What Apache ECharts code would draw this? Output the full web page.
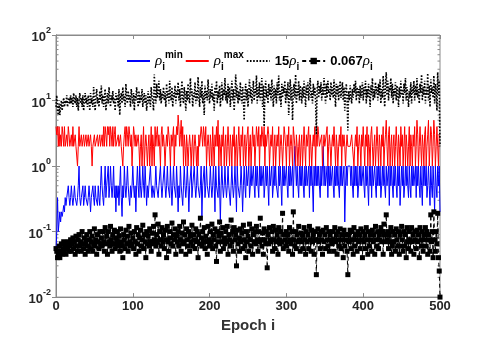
<!DOCTYPE html>
<html>
<head>
<meta charset="utf-8">
<script src="https://cdn.jsdelivr.net/npm/echarts@6/dist/echarts.min.js"></script>
<style>
  html, body { margin: 0; padding: 0; background: #fff; }
  #chart { width: 479px; height: 338px; }
</style>
</head>
<body>
<div id="chart"></div>
<script>
// values, one per epoch (0..500)
const rhoMin = [
  .05,.1,.33,.1,.14,.2,.14,.2,.17,.2,.25,.2,.33,.25,.33,.33,.5,.33,.25,.33,
  .5,.33,.25,.33,.5,.33,.33,.25,.33,.5,1,.33,.25,.33,.33,.5,.25,.33,.5,.33,
  .33,.25,.33,.5,.33,.2,.33,.33,.5,.33,.25,.5,.33,.33,.25,.5,.33,.25,.5,1,
  .5,.33,.25,.5,1,.33,.5,.5,1,.33,.5,1,.5,.33,.5,1,.33,.5,.2,.5,
  .33,.5,.25,.5,1,.33,.17,.5,.33,1,.5,.33,.5,1,.5,.33,.25,.5,.33,.5,
  1,.5,.33,.5,.2,.5,1,.5,.33,1,.5,.33,.5,1,.5,.33,1,.5,.25,.5,
  .33,.5,.5,1,.5,.33,.5,.5,.33,.5,1,.5,.5,.33,.5,.5,1,.5,.33,.5,
  .5,1,.5,.33,.5,1,.5,.5,.33,1,.5,.25,.5,1,.5,.5,.33,1,.5,.2,
  .5,.33,1,.5,.5,.25,.5,1,.5,.33,.5,1,.5,.2,.5,.5,1,.33,.5,.5,
  1,.5,.33,.5,1,.5,.5,.33,.5,1,.17,.5,.5,1,.33,.5,1,.5,.5,.33,
  .5,1,.5,.33,.5,1,.5,.2,1,.5,.5,.33,1,.5,.14,.5,1,.5,.33,.5,
  1,.5,.33,.5,1,.5,.5,.25,.5,1,.5,.33,.5,1,.5,.2,1,.5,.5,.33,
  .5,1,.5,.2,.5,1,.5,.33,1,.5,.5,1,.33,.5,1,.5,.5,1,.5,.33,
  1,.5,1,.5,.33,1,.5,1,.5,.5,1,.33,.5,1,.5,1,.5,.25,1,.5,
  .5,1,.33,.5,1,.5,1,.5,.5,.33,1,.5,1,.5,.25,1,.5,1,.5,.5,
  1,.5,.33,1,.5,1,.5,.5,1,.33,1,2,1,.5,1,.5,.33,1,.5,1,
  .5,1,.5,.33,1,.5,1,.5,.5,1,.33,1,.5,1,.5,.2,1,.5,1,.5,
  1,.5,1,.5,.33,1,.5,1,2,.5,1,.5,.5,1,.33,1,.5,1,.5,.5,
  1,.5,.33,1,.5,1,.5,1,.5,.33,1,.5,1,.5,.5,1,.14,.5,1,.5,
  1,1,1,1,.5,1,.5,.33,1,.5,1,.5,1,.33,.5,1,.5,1,.5,.5,
  1,.5,.33,1,.5,1,.5,.25,1,.5,1,.33,1,.5,.5,1,.5,.33,1,.5,
  1,.5,1,.33,.5,1,.5,1,.5,.33,1,.5,.5,1,.25,1,.5,1,.5,.33,
  1,.5,1,.5,.33,1,.5,1,.25,.5,1,.5,1,.33,.5,1,.5,1,.5,.33,
  1,.5,.33,1,.5,1,.5,.5,1,.33,1,.5,1,.5,.33,1,.5,.25,1,.5,
  1,.5,1,.33,.5,1,.5,.25,1,.5,.33,1,.5,.2,1,.5,.33,1,.5,1,
  .2
];

const rhoMax = [
  4,3,4,2,4,2,3,2,4,3,2,4,2,2,3,2,4,3,2,2,
  3,2,4,2,2,3,2,2,1,2,4,2,2,3,2,2,3,2,2,3,
  2,2,3,2,2,3,2,1,2,2,3,2,2,2,3,2,2,3,2,2,
  3,2,4,2,4,3,2,4,3,4,2,4,3,2,4,2,3,4,2,2,
  2,3,2,2,3,2,2,1,2,3,4,2,4,3,2,4,3,2,3,1,
  2,4,3,2,3,2,2,3,2,1,2,3,1,2,4,1,2,3,2,1,
  2,3,1,2,4,1,3,2,1,4,2,3,4,2,3,2,1,3,4,2,
  3,2,1,2,3,2,4,3,2,1,3,2,2,4,1,3,2,4,3,6,
  4,2,3,5,2,4,1,3,2,1,3,2,1,2,3,2,1,2,3,1,
  2,3,2,1,2,1,3,2,2,4,3,2,4,3,2,4,1,2,3,2,
  1,3,2,1,4,2,1,3,2,4,2,5,1,3,2,1,3,2,4,1,
  2,3,1,2,4,2,1,3,2,1,3,2,4,1,2,3,1,2,4,2,
  1,3,2,4,1,2,3,1,2,3,4,1,2,3,1,2,4,2,3,1,
  2,4,3,2,4,1,3,2,4,3,2,4,1,3,2,2,4,3,1,2,
  3,2,4,1,2,3,1,2,3,2,4,1,2,3,2,1,2,4,3,2,
  1,3,2,4,1,2,3,2,1,4,4,2,1,3,2,1,2,3,1,2,
  3,1,2,4,2,1,3,2,2,4,1,3,2,1,2,3,2,4,1,3,
  2,4,3,2,2,2,3,1,2,3,2,2,2,4,1,2,3,2,1,2,
  3,2,4,2,1,3,2,1,2,3,2,4,1,3,2,3,2,1,2,3,
  2,2,2,2,2,3,2,2,1,2,3,2,4,1,2,3,2,1,3,2,
  4,2,1,3,2,4,1,3,2,1,3,4,2,1,2,3,1,2,4,2,
  1,3,2,1,3,2,4,1,2,3,5,2,1,3,4,1,2,3,1,2,
  3,1,2,4,2,1,3,2,1,4,2,3,1,2,4,1,3,2,1,2,
  4,1,3,2,1,3,2,4,1,2,5,3,1,2,4,2,1,3,2,1,
  3,4,1,2,3,5,1,2,4,3,1,2,5,3,1,2,4,2,1,3,
  3
];

const rho15 = [
  8,12,7,6,9,6,8,10,7,9,11,8,10,9,12,8,10,11,9,12,
  9,11,8,13,10,9,12,8,11,7,10,13,9,11,8,12,7,10,13,9,
  11,8,12,10,7,13,9,11,8,16,10,7,12,15,9,11,8,14,10,17,
  9,12,8,11,15,7,10,13,9,16,11,8,12,10,14,9,11,7,13,10,
  12,8,15,6,11,13,9,16,10,12,8,18,11,9,14,10,12,8,15,11,
  9,13,7,12,10,16,11,8,14,9,12,10,15,8,11,13,9,12,7,10,
  14,9,12,8,16,11,10,7,25,12,9,18,11,14,20,10,15,9,13,11,
  16,10,13,8,18,11,14,9,20,12,10,16,8,13,11,17,9,14,12,19,
  10,15,8,13,20,11,9,16,12,7,14,10,18,11,9,22,12,15,8,13,
  11,19,9,14,10,23,12,8,16,11,20,9,13,6,17,11,14,10,21,12,
  9,15,11,18,10,13,7,16,12,20,9,14,11,17,8,13,19,10,15,12,
  22,10,14,9,18,11,16,8,13,20,10,15,7,12,25,11,17,9,14,10,
  19,12,9,16,11,5,13,18,10,15,8,14,21,11,16,9,13,20,10,15,
  12,24,9,16,11,19,10,14,22,8,17,4,13,20,11,15,9,18,12,16,
  10,21,13,8,17,11,15,9,19,12,24,10,14,8,18,11,16,13,20,9,
  15,11,19,6,13,21,10,16,5,14,18,11,25,9,15,12,20,10,17,13,
  9,16,11,20,13,8,17,12,19,10,15,22,11,14,9,18,12,16,10,3,
  15,20,11,17,13,19,10,16,12,22,14,9,18,11,20,13,15,10,19,12,
  16,11,21,13,8,18,12,17,10,15,20,11,14,19,10,16,7,13,18,11,
  3.5,14,10,17,12,9,15,11,18,13,20,10,16,12,15,9,17,11,14,19,
  10,16,12,20,9,15,11,18,13,8,17,12,22,10,15,11,19,13,16,10,
  18,12,21,9,15,11,24,13,8,17,27,12,20,10,16,14,22,11,18,9,
  15,12,19,10,17,13,8,16,11,20,12,15,9,18,13,22,10,16,12,8,
  14,11,19,9,16,13,20,10,17,12,22,11,15,9,18,13,25,10,16,12,
  20,9,15,12,26,10,17,8,21,13,16,11,24,9,18,14,7,27,12,20,
  2
];

const rho067 = [
  .055,.05,.04,.045,.06,.04,.05,.065,.045,.055,.07,.05,.06,.045,.065,.055,.07,.05,.06,.075,
  .05,.065,.08,.055,.07,.045,.085,.06,.05,.075,.09,.06,.07,.05,.1,.065,.055,.08,.045,.07,
  .09,.06,.05,.075,.1,.055,.07,.085,.05,.065,.11,.06,.075,.045,.09,.07,.055,.1,.065,.08,
  .06,.1,.07,.05,.115,.065,.085,.045,.1,.07,.06,.12,.075,.05,.09,.065,.105,.055,.08,.07,
  .1,.06,.085,.05,.11,.07,.06,.04,.09,.075,.055,.105,.065,.085,.05,.12,.07,.06,.095,.065,
  .08,.055,.1,.07,.045,.115,.065,.09,.05,.08,.105,.06,.075,.125,.055,.09,.07,.04,.1,.065,
  .085,.06,.11,.07,.05,.095,.065,.12,.075,.18,.06,.09,.07,.13,.045,.1,.075,.06,.115,.07,
  .09,.055,.105,.075,.04,.12,.07,.05,.1,.08,.065,.135,.06,.09,.075,.11,.045,.085,.07,.1,
  .06,.12,.075,.05,.095,.07,.14,.065,.09,.045,.11,.075,.06,.1,.05,.085,.07,.125,.06,.09,
  .075,.055,.11,.07,.1,.04,.09,.065,.16,.08,.06,.1,.07,.115,.055,.085,.07,.045,.12,.075,
  .06,.1,.07,.13,.055,.09,.075,.11,.06,.035,.1,.07,.085,.14,.05,.095,.07,.115,.055,.08,
  .065,.1,.07,.12,.045,.09,.075,.06,.15,.07,.1,.05,.115,.075,.09,.03,.105,.065,.08,.05,
  .11,.07,.095,.055,.125,.075,.06,.04,.1,.07,.085,.05,.13,.075,.06,.11,.045,.09,.07,.1,
  .065,.12,.075,.05,.1,.07,.16,.075,.06,.095,.045,.11,.075,.065,.1,.028,.09,.065,.115,.075,
  .07,.1,.05,.12,.075,.055,.105,.07,.09,.045,.115,.075,.065,.1,.07,.19,.055,.09,.075,.06,
  .1,.07,.09,.05,.115,.075,.065,.1,.045,.2,.075,.06,.1,.055,.09,.07,.12,.075,.05,.095,
  .07,.09,.055,.115,.075,.045,.1,.07,.09,.055,.12,.075,.05,.105,.07,.09,.045,.1,.075,.022,
  .075,.11,.07,.09,.055,.1,.075,.045,.105,.07,.09,.055,.115,.075,.06,.1,.05,.09,.075,.065,
  .1,.075,.05,.115,.07,.09,.045,.1,.075,.06,.11,.055,.09,.075,.04,.105,.06,.09,.075,.05,
  .022,.09,.07,.105,.055,.1,.075,.045,.115,.06,.09,.075,.05,.1,.07,.09,.055,.11,.075,.04,
  .1,.07,.09,.055,.115,.075,.045,.1,.06,.09,.075,.05,.105,.07,.09,.045,.12,.075,.06,.1,
  .055,.09,.075,.115,.07,.1,.045,.13,.09,.07,.18,.075,.1,.055,.09,.07,.115,.045,.06,.1,
  .07,.09,.05,.11,.075,.06,.1,.045,.09,.06,.12,.075,.05,.1,.06,.09,.04,.115,.07,.055,
  .1,.075,.05,.115,.07,.09,.045,.1,.075,.055,.105,.07,.09,.04,.115,.075,.06,.1,.05,.09,
  .075,.115,.06,.1,.045,.09,.075,.05,.18,.07,.1,.04,.2,.075,.05,.1,.065,.19,.04,.025,
  .01
];

const xTicks = [0, 100, 200, 300, 400, 500];
const yDecades = [0.01, 0.1, 1, 10, 100];

const FONT = 'Liberation Sans';
const toPairs = arr => arr.map((v, i) => [i, v]);

const chart = echarts.init(document.getElementById('chart'), null, { renderer: 'canvas' });

const rhoStyle = { fontFamily: 'Liberation Serif', fontStyle: 'italic', fontWeight: 'normal', fontSize: 15, color: '#000', lineHeight: 22, verticalAlign: 'middle' };
const boldStyle = { fontFamily: FONT, fontWeight: 'bold', fontSize: 13, color: '#000', lineHeight: 22, verticalAlign: 'middle' };
const subStyle = { fontFamily: FONT, fontWeight: 'bold', fontSize: 10, color: '#000', lineHeight: 11, verticalAlign: 'bottom' };
const supStyle = { fontFamily: FONT, fontWeight: 'bold', fontSize: 10, color: '#000', lineHeight: 11, verticalAlign: 'top' };

const legendText = {
  'rho min': '{r|ρ}{sub|i}{sup|min}',
  'rho max': '{r|ρ}{sub|i}{sup|max}',
  '15 rho': '{b|15}{r|ρ}{sub|i}',
  '0.067 rho': '{b|0.067}{r|ρ}{sub|i}'
};

const axisGray = '#8a8a8a';
const noSymbol = { opacity: 0 };

chart.setOption({
  animation: false,
  backgroundColor: '#fff',
  grid: { left: 56, right: 39, top: 35, bottom: 36, show: true, borderColor: axisGray, borderWidth: 1 },
  legend: {
    left: 121, top: 45,
    itemWidth: 23, itemHeight: 8, itemGap: 2,
    data: [
      { name: 'rho min', itemStyle: noSymbol },
      { name: 'rho max', itemStyle: noSymbol },
      { name: '15 rho', itemStyle: noSymbol },
      { name: '0.067 rho' }
    ],
    formatter: name => legendText[name],
    textStyle: { rich: { r: rhoStyle, b: boldStyle, sub: subStyle, sup: supStyle } }
  },
  xAxis: [{
    type: 'value', min: 0, max: 500, interval: 100,
    name: 'Epoch i', nameLocation: 'middle', nameGap: 18,
    nameTextStyle: { fontFamily: FONT, fontWeight: 'bold', fontSize: 15, color: '#333' },
    axisLine: { lineStyle: { color: axisGray } },
    axisTick: { inside: true, length: 4, lineStyle: { color: axisGray } },
    axisLabel: { fontFamily: FONT, fontWeight: 'bold', fontSize: 13, color: '#262626', margin: 3,
      customValues: xTicks },
    splitLine: { show: false }
  }, {
    type: 'value', min: 0, max: 500, interval: 100, position: 'top',
    axisLine: { lineStyle: { color: axisGray } },
    axisTick: { inside: true, length: 4, lineStyle: { color: axisGray } },
    axisLabel: { show: false }, splitLine: { show: false }
  }],
  yAxis: [{
    type: 'log', logBase: 10, min: 0.01, max: 100,
    axisLine: { show: true, lineStyle: { color: axisGray } },
    axisTick: { show: true, inside: true, length: 4, lineStyle: { color: axisGray } },
    axisLabel: {
      margin: 5,
      formatter: v => '{b|10}{e|' + Math.round(Math.log10(v)) + '}',
      rich: {
        b: { fontFamily: FONT, fontWeight: 'bold', fontSize: 13, color: '#262626', lineHeight: 18, verticalAlign: 'bottom' },
        e: { fontFamily: FONT, fontWeight: 'bold', fontSize: 9, color: '#262626', lineHeight: 10, verticalAlign: 'top' }
      }
    },
    splitLine: { show: false }
  }, {
    type: 'log', logBase: 10, min: 0.01, max: 100, position: 'right',
    axisLine: { show: true, lineStyle: { color: axisGray } },
    axisTick: { show: true, inside: true, length: 4, lineStyle: { color: axisGray } },
    axisLabel: { show: false }, splitLine: { show: false }
  }],
  series: [{
    name: 'rho min', type: 'line', data: toPairs(rhoMin), symbol: 'none',
    lineStyle: { color: '#0000ff', width: 1 }, itemStyle: { color: '#0000ff' }
  }, {
    name: 'rho max', type: 'line', data: toPairs(rhoMax), symbol: 'none',
    lineStyle: { color: '#ff0000', width: 1 }, itemStyle: { color: '#ff0000' }
  }, {
    name: '15 rho', type: 'line', data: toPairs(rho15), symbol: 'none',
    lineStyle: { color: '#000', width: 1.6, type: [1.6, 1.6] }, itemStyle: { color: '#000' }
  }, {
    name: '0.067 rho', type: 'line', data: toPairs(rho067),
    symbol: 'rect', symbolSize: 5, showAllSymbol: true,
    lineStyle: { color: '#000', width: 1, type: [4, 3] }, itemStyle: { color: '#000' }
  }]
});

// minor ticks of the log axis (2..9 within each decade), on both sides
const xl = chart.convertToPixel({ xAxisIndex: 0 }, 0);
const xr = chart.convertToPixel({ xAxisIndex: 0 }, 500);
const minor = [];
for (let k = 0; k < yDecades.length - 1; k++) {
  for (let m = 2; m <= 9; m++) {
    const y = chart.convertToPixel({ yAxisIndex: 0 }, m * yDecades[k]);
    minor.push({ type: 'line', shape: { x1: xl, y1: y, x2: xl + 2.5, y2: y }, style: { stroke: axisGray, lineWidth: 1 }, silent: true });
    minor.push({ type: 'line', shape: { x1: xr, y1: y, x2: xr - 2.5, y2: y }, style: { stroke: axisGray, lineWidth: 1 }, silent: true });
  }
}
chart.setOption({ graphic: minor });
</script>
</body>
</html>
